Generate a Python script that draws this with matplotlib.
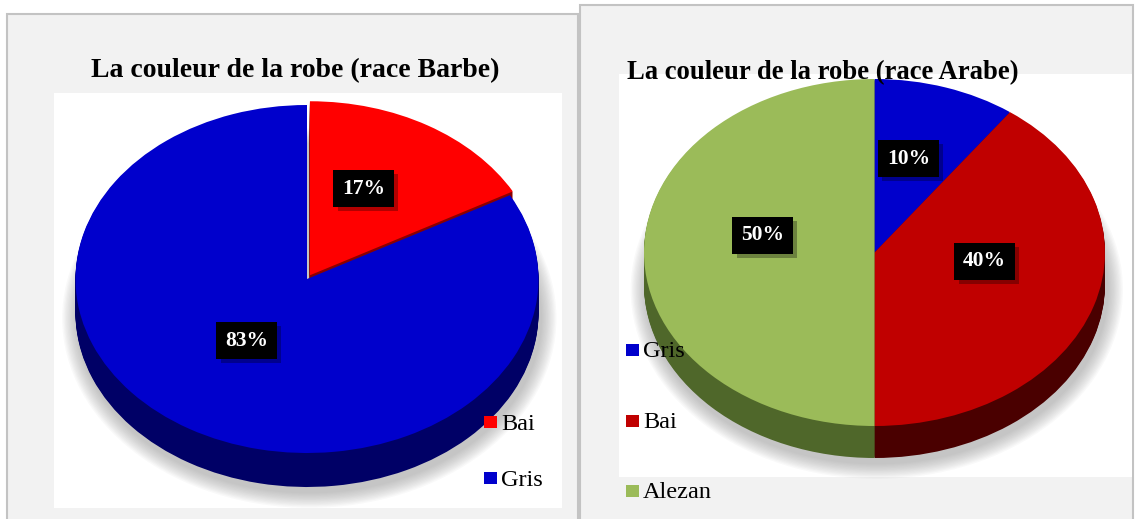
import matplotlib.pyplot as plt
import matplotlib.patheffects as pe
from matplotlib.patches import Rectangle, Ellipse

W, H = 1135, 519

# data
barbe_labels = ['Bai', 'Gris']
barbe_values = [17, 83]
barbe_pct = ['17%', '83%']

arabe_labels = ['Gris', 'Bai', 'Alezan']
arabe_values = [10, 40, 50]
arabe_pct = ['10%', '40%', '50%']

plt.rcParams['font.family'] = ['Liberation Serif', 'DejaVu Serif']

fig = plt.figure(figsize=(W / 100, H / 100), dpi=100)

# background axes in pixel coordinates
bg = fig.add_axes([0, 0, 1, 1], zorder=0)
bg.set_xlim(0, W)
bg.set_ylim(H, 0)
bg.axis('off')
bg.add_patch(Rectangle((7, 14), 571, 530, facecolor='#f2f2f2', edgecolor='#c3c3c3', lw=1.5))
bg.add_patch(Rectangle((54, 93), 508, 415, facecolor='white', lw=0))
bg.add_patch(Rectangle((580, 5), 553, 540, facecolor='#f2f2f2', edgecolor='#c3c3c3', lw=1.5))
bg.add_patch(Rectangle((619, 74), 513, 403, facecolor='white', lw=0))

# overlay axes for texts
top = fig.add_axes([0, 0, 1, 1], zorder=3)
top.set_xlim(0, W)
top.set_ylim(H, 0)
top.axis('off')
top.patch.set_alpha(0)


def pie3d(cx, cy, rx, ry, depth, values, colors, side_colors, explode):
    x0, x1, y0, y1 = -1.35, 1.35, -1.6, 1.3
    left = (cx + x0 * rx) / W
    bottom = (H - (cy - y0 * ry)) / H
    ax = fig.add_axes([left, bottom, (x1 - x0) * rx / W, (y1 - y0) * ry / H], zorder=1)
    ax.patch.set_alpha(0)
    dz = depth / ry
    # soft shadow
    for i in range(12, 0, -1):
        g = i * 1.3
        ax.add_patch(Ellipse((0.01, -dz - 0.03), 2 + 2 * g / rx, 2 + 2 * g / ry,
                             facecolor='#7f7f7f', alpha=0.045, lw=0))
    # side of the pie
    n = int(depth)
    for k in range(n, 0, -1):
        ax.pie(values, colors=side_colors, startangle=90, counterclock=False,
               center=(0, -dz * k / n), explode=explode,
               wedgeprops=dict(lw=0))
    # top face
    ax.pie(values, colors=colors, startangle=90, counterclock=False,
           explode=explode, wedgeprops=dict(lw=0))
    ax.set_aspect('auto')
    ax.set_xlim(x0, x1)
    ax.set_ylim(y0, y1)
    ax.axis('off')
    return ax


pie3d(307, 279, 231.5, 174, 34, barbe_values,
      ['#ff0000', '#0000cc'], ['#8a0000', '#000066'], [0.025, 0])
pie3d(874.5, 252.5, 230.5, 173.5, 32, arabe_values,
      ['#0000cc', '#c00000', '#9bbb59'], ['#000066', '#4a0000', '#4f672a'], [0, 0, 0])

# titles
top.text(295, 77, 'La couleur de la robe (race Barbe)', ha='center', va='baseline',
         fontsize=20, fontweight='bold', color='black')
top.text(627, 79, 'La couleur de la robe (race Arabe)', ha='left', va='baseline',
         fontsize=19.2, fontweight='bold', color='black')

# percentage labels
barbe_pos = [(363.5, 188.5), (246.5, 340.5)]
arabe_pos = [(908.5, 158.5), (984.5, 261.5), (762.5, 235.5)]


def pct_label(x, y, s):
    t = top.text(x, y, s, ha='center', va='center', fontsize=15.5, fontweight='bold',
                 color='white', bbox=dict(boxstyle='square,pad=0.4', fc='black', ec='none'))
    t.get_bbox_patch().set_path_effects(
        [pe.SimplePatchShadow(offset=(3, -3), shadow_rgbFace='black', alpha=0.3), pe.Normal()])


for (x, y), s in zip(barbe_pos, barbe_pct):
    pct_label(x, y, s)
for (x, y), s in zip(arabe_pos, arabe_pct):
    pct_label(x, y, s)

# legends
barbe_leg_y = [430, 486]
arabe_leg_y = [357, 428, 498]
for lab, col, yb in zip(barbe_labels, ['#ff0000', '#0000cc'], barbe_leg_y):
    top.add_patch(Rectangle((484, yb - 14), 13, 12, facecolor=col, lw=0))
    top.text(501, yb, lab, ha='left', va='baseline', fontsize=17.5, color='black')
for lab, col, yb in zip(arabe_labels, ['#0000cc', '#c00000', '#9bbb59'], arabe_leg_y):
    top.add_patch(Rectangle((626, yb - 13), 13, 12, facecolor=col, lw=0))
    top.text(643, yb, lab, ha='left', va='baseline', fontsize=17.5, color='black')

fig.savefig('out.png', dpi=100)
